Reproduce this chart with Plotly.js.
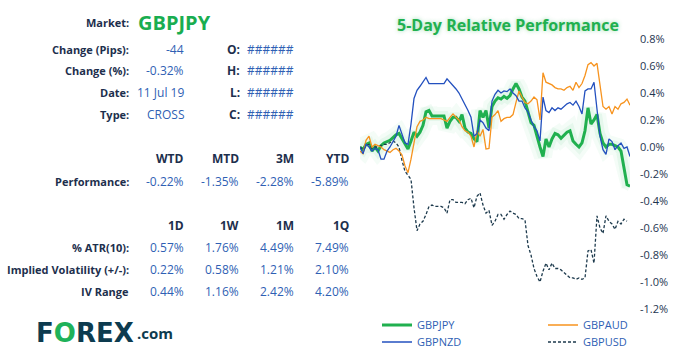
<!DOCTYPE html>
<html><head><meta charset="utf-8">
<script src="https://cdn.plot.ly/plotly-3.0.1.min.js"></script>
<style>html,body{margin:0;padding:0;background:#fff;}#chart{width:680px;height:356px;}</style>
</head><body><div id="chart"></div>
<script>
// ---- data ----
const seriesNames = ['GBPJPY', 'GBPAUD', 'GBPNZD', 'GBPUSD'];
const gbpjpy = [0.00,-0.02,0.02,0.03,-0.03,0.00,-0.03,0.01,0.03,0.04,
 0.05,0.07,0.09,0.10,0.06,0.02,-0.015,0.045,0.11,0.08,
 0.11,0.16,0.26,0.27,0.23,0.23,0.23,0.23,0.23,0.14,
 0.19,0.22,0.22,0.19,0.24,0.14,0.11,0.10,0.06,0.04,
 0.27,0.22,0.27,0.14,0.30,0.34,0.365,0.355,0.375,0.36,
 0.38,0.43,0.47,0.43,0.37,0.34,0.26,0.18,0.16,0.07,
 0.00,-0.07,0.06,0.00,0.06,0.10,0.09,0.065,0.09,0.11,
 0.12,0.045,0.02,0.00,0.03,0.12,0.29,0.17,0.20,0.24,
 0.10,0.03,0.00,0.02,0.02,0.01,0.00,-0.03,-0.15,-0.28,
 -0.29];
const gbpnzd = [0.00,-0.05,0.02,0.00,-0.03,-0.01,-0.02,-0.09,-0.09,-0.03,
 0.00,0.04,0.08,0.16,0.10,0.03,0.02,0.17,0.36,0.42,
 0.45,0.48,0.515,0.47,0.47,0.47,0.47,0.47,0.47,0.505,
 0.48,0.46,0.43,0.40,0.36,0.32,0.27,0.22,0.08,0.10,
 0.20,0.18,0.14,0.12,0.34,0.39,0.42,0.40,0.415,0.41,
 0.43,0.40,0.38,0.34,0.34,0.29,0.26,0.20,0.15,0.12,
 0.045,0.37,0.27,0.255,0.29,0.27,0.29,0.28,0.30,0.32,
 0.33,0.31,0.34,0.30,0.245,0.415,0.43,0.43,0.48,0.27,
 0.08,-0.02,-0.055,0.06,0.04,-0.02,0.01,0.03,-0.01,0.00,
 -0.07];
const gbpaud = [-0.03,-0.05,0.05,0.08,0.00,0.02,0.01,0.00,-0.02,-0.03,
 -0.04,-0.02,-0.01,-0.03,-0.06,-0.14,-0.19,-0.09,0.04,0.15,
 0.19,0.20,0.22,0.21,0.21,0.21,0.21,0.21,0.20,0.19,
 0.22,0.245,0.22,0.20,0.15,0.12,0.11,0.08,0.00,0.12,
 0.08,0.13,-0.015,-0.01,0.22,0.24,0.27,0.19,0.21,0.22,
 0.22,0.24,0.33,0.415,0.37,0.33,0.32,0.34,0.37,0.35,
 0.20,0.55,0.48,0.47,0.46,0.44,0.43,0.43,0.42,0.44,
 0.45,0.42,0.48,0.44,0.47,0.53,0.61,0.625,0.60,0.62,
 0.44,0.30,0.28,0.30,0.245,0.30,0.28,0.32,0.33,0.355,
 0.31];
const gbpusd = [0.00,-0.02,0.01,0.02,-0.01,0.00,0.00,0.01,0.02,0.02,
 0.03,0.045,0.03,0.00,-0.10,-0.18,-0.21,-0.24,-0.45,-0.62,
 -0.57,-0.55,-0.50,-0.44,-0.43,-0.44,-0.44,-0.44,-0.45,-0.49,
 -0.39,-0.39,-0.41,-0.41,-0.41,-0.42,-0.39,-0.38,-0.45,-0.365,
 -0.34,-0.43,-0.49,-0.47,-0.58,-0.55,-0.50,-0.50,-0.535,-0.50,
 -0.475,-0.49,-0.50,-0.53,-0.53,-0.54,-0.73,-0.80,-0.90,-0.96,
 -1.00,-0.92,-0.86,-0.91,-0.86,-0.90,-0.90,-0.91,-0.93,-0.95,
 -0.97,-0.97,-0.98,-0.97,-0.98,-0.97,-0.77,-0.76,-0.86,-0.51,
 -0.60,-0.64,-0.51,-0.55,-0.57,-0.61,-0.55,-0.57,-0.535,-0.55];
const yTickVals = [0.8, 0.6, 0.4, 0.2, 0.0, -0.2, -0.4, -0.6, -0.8, -1.0, -1.2];
const yTickText = ['0.8%','0.6%','0.4%','0.2%','0.0%','-0.2%','-0.4%','-0.6%','-0.8%','-1.0%','-1.2%'];

const marketName = 'GBPJPY';
const infoLabels = ['Change (Pips):', 'Change (%):', 'Date:', 'Type:'];
const infoValues = ['-44', '-0.32%', '11 Jul 19', 'CROSS'];
const ohlcLabels = ['O:', 'H:', 'L:', 'C:'];
const ohlcValues = ['######', '######', '######', '######'];
const perfHeaders = ['WTD', 'MTD', '3M', 'YTD'];
const perfLabel = 'Performance:';
const perfValues = ['-0.22%', '-1.35%', '-2.28%', '-5.89%'];
const volHeaders = ['1D', '1W', '1M', '1Q'];
const volLabels = ['% ATR(10):', 'Implied Volatility (+/-):', 'IV Range'];
const atrValues = ['0.57%', '1.76%', '4.49%', '7.49%'];
const ivValues = ['0.22%', '0.58%', '1.21%', '2.10%'];
const ivRangeValues = ['0.44%', '1.16%', '2.42%', '4.20%'];

// ---- layout geometry ----
const W = 680, H = 356, ML = 360, MR = 50, MT = 39, MB = 47;
const PW = W - ML - MR, PH = H - MT - MB;
const px = x => (x - ML) / PW;
const py = y => (H - MB - y) / PH;

const FONT = 'Open Sans';
const LABEL = {family: FONT, size: 11, color: '#1d2f4d', weight: 700};
const HEAD = {family: FONT, size: 12, color: '#1d2f4d', weight: 700};
const VAL = {family: FONT, size: 12, color: '#2f5fb4'};
const BLUE = '#2f5fb4';

function ann(text, x, y, anchor, font) {
  return {text: text, x: px(x), y: py(y), xref: 'paper', yref: 'paper',
    xanchor: anchor, yanchor: 'middle', showarrow: false, font: font};
}

const annotations = [];
annotations.push(ann('Market:', 131, 23, 'right', LABEL));
annotations.push(ann(marketName, 136, 22, 'left', {family: FONT, size: 20, color: '#19ad50', weight: 700}));
const infoY = [49, 71, 93, 115];
infoLabels.forEach((t, i) => {
  annotations.push(ann(t, 131, infoY[i], 'right', LABEL));
  annotations.push(ann(infoValues[i], 186, infoY[i], 'right', VAL));
  annotations.push(ann(ohlcLabels[i], 242, infoY[i], 'right', {family: FONT, size: 12, color: '#1d2f4d', weight: 700}));
  annotations.push(ann(ohlcValues[i], 245, infoY[i], 'left', VAL));
});
const colX = [186, 241, 296, 351];
perfHeaders.forEach((t, i) => annotations.push(ann(t, colX[i], 158, 'right', HEAD)));
annotations.push(ann(perfLabel, 131, 181, 'right', LABEL));
perfValues.forEach((t, i) => annotations.push(ann(t, colX[i], 181, 'right', VAL)));
volHeaders.forEach((t, i) => annotations.push(ann(t, colX[i], 225, 'right', HEAD)));
const volRows = [atrValues, ivValues, ivRangeValues];
const volY = [247, 269, 291];
volLabels.forEach((t, r) => {
  annotations.push(ann(t, 131, volY[r], 'right', LABEL));
  volRows[r].forEach((v, i) => annotations.push(ann(v, colX[i], volY[r], 'right', VAL)));
});
// logo
annotations.push(ann("F<span style='color:#1fb25a'>O</span>REX", 34, 333, 'left',
  {family: 'DejaVu Sans', size: 26, color: '#0d3b4f', weight: 700}));
annotations.push(ann('.com', 135, 333, 'left', {family: FONT, size: 15, color: '#0d3b4f', weight: 700}));

const xIdx = gbpjpy.map((_, i) => i);

const traces = [
  {x: xIdx, y: gbpjpy, name: 'glow', type: 'scatter', mode: 'lines', showlegend: false, hoverinfo: 'skip',
   line: {color: 'rgba(40,190,100,0.05)', width: 18}},
  {x: xIdx, y: gbpjpy, name: 'glow2', type: 'scatter', mode: 'lines', showlegend: false, hoverinfo: 'skip',
   line: {color: 'rgba(40,190,100,0.07)', width: 10}},
  {x: xIdx, y: gbpjpy, name: seriesNames[0], type: 'scatter', mode: 'lines',
   line: {color: '#20b04f', width: 3}, legend: 'legend'},
  {x: xIdx.slice(0, gbpusd.length), y: gbpusd, name: seriesNames[3], type: 'scatter', mode: 'lines',
   line: {color: '#1d3a4d', width: 1.3, dash: '3px,2px'}, legend: 'legend4'},
  {x: xIdx, y: gbpaud, name: seriesNames[1], type: 'scatter', mode: 'lines',
   line: {color: '#f7931e', width: 1.3}, legend: 'legend2'},
  {x: xIdx, y: gbpnzd, name: seriesNames[2], type: 'scatter', mode: 'lines',
   line: {color: '#2350bf', width: 1.3}, legend: 'legend3'}
];

function leg(x, top) {
  return {x: px(x), y: py(top), xref: 'paper', yref: 'paper', xanchor: 'left', yanchor: 'top',
    orientation: 'v', bgcolor: 'rgba(0,0,0,0)', borderwidth: 0,
    font: {family: FONT, size: 11, color: BLUE}};
}

const layout = {
  width: W, height: H,
  margin: {l: ML, r: MR, t: MT, b: MB, autoexpand: false},
  paper_bgcolor: '#ffffff', plot_bgcolor: '#ffffff',
  title: {text: '5-Day Relative Performance', xref: 'container', yref: 'container',
    x: 508 / W, y: 1 - 25 / H, xanchor: 'center', yanchor: 'middle',
    font: {family: FONT, size: 16, color: '#21b04f', weight: 700, shadow: '0 0 4px rgba(33,176,79,0.45)'}},
  xaxis: {range: [0, 90], visible: false, showgrid: false, zeroline: false, fixedrange: true},
  yaxis: {range: [-1.2, 0.8], side: 'right', showgrid: false, zeroline: false, showline: false,
    tickmode: 'array', tickvals: yTickVals, ticktext: yTickText, ticks: '', ticklabelstandoff: 9,
    tickfont: {family: FONT, size: 11, color: '#1e3550'}},
  showlegend: true,
  legend: leg(377, 310.5),
  legend2: leg(543, 310.5),
  legend3: leg(377, 327.5),
  legend4: leg(543, 327.5),
  annotations: annotations
};

Plotly.newPlot('chart', traces, layout, {staticPlot: true, displayModeBar: false});
</script>
</body></html>
